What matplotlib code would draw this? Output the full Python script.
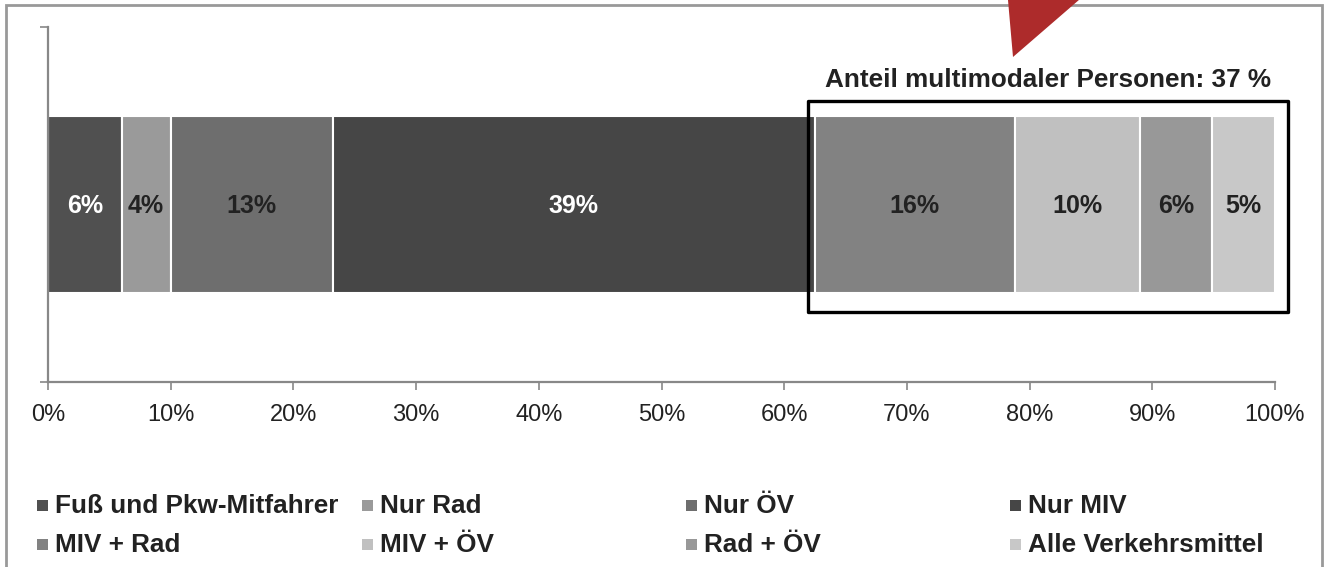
import matplotlib
matplotlib.use("Agg")
import matplotlib.pyplot as plt
from matplotlib.patches import Rectangle, Polygon
import numpy as np

plt.rcParams['font.family'] = ['Liberation Sans', 'DejaVu Sans']

# ---- data ----
categories = ["Fuß und Pkw-Mitfahrer", "Nur Rad", "Nur ÖV", "Nur MIV",
              "MIV + Rad", "MIV + ÖV", "Rad + ÖV", "Alle Verkehrsmittel"]
values = [6.0, 4.0, 13.2, 39.3, 16.3, 10.2, 5.9, 5.1]
colors = ["#505050", "#9a9a9a", "#6e6e6e", "#464646",
          "#828282", "#c0c0c0", "#989898", "#c8c8c8"]
label_colors = ["white", "#222222", "#222222", "white",
                "#222222", "#222222", "#222222", "#222222"]
multimodal = ["MIV + Rad", "MIV + ÖV", "Rad + ÖV", "Alle Verkehrsmittel"]
annotation = "Anteil multimodaler Personen: 37 %"
xticks = [0, 10, 20, 30, 40, 50, 60, 70, 80, 90, 100]
xticklabels = [f"{t}%" for t in xticks]

W, H = 1332, 567
fig = plt.figure(figsize=(W / 100, H / 100), dpi=100)
ax = fig.add_axes([48 / W, 1 - 382 / H, (1275 - 48) / W, (382 - 27) / H])

left = 0.0
starts = []
for cat, v, c, lc in zip(categories, values, colors, label_colors):
    ax.barh(0, v, left=left, height=0.5, color=c, edgecolor="white", linewidth=1.5)
    ax.text(left + v / 2, -0.005, f"{round(v)}%", ha="center", va="center",
            fontsize=18, fontweight="bold", color=lc)
    starts.append(left)
    left += v

ax.set_xlim(0, 100)
ax.set_ylim(-0.5, 0.5)
ax.set_xticks(xticks)
ax.set_xticklabels(xticklabels, fontsize=17, color="#222222")
ax.set_yticks([-0.5, 0.5])
ax.set_yticklabels([])
for s in ["top", "right"]:
    ax.spines[s].set_visible(False)
for s in ["left", "bottom"]:
    ax.spines[s].set_color("#888888")
    ax.spines[s].set_linewidth(1.6)
ax.tick_params(axis="both", direction="out", length=6, width=1.2, color="#888888")
ax.tick_params(axis="x", pad=10)

# box around multimodal group
i0 = categories.index(multimodal[0])
x0 = starts[i0] - 0.6
x1 = 100 + 1.05
box = Rectangle((x0, -0.303), x1 - x0, 0.5945, fill=False, edgecolor="black",
                linewidth=2.4, joinstyle="round", clip_on=False, zorder=5)
ax.add_patch(box)
ax.text((x0 + x1) / 2, 0.35, annotation, ha="center", va="center",
        fontsize=18.8, fontweight="bold", color="#222222", clip_on=False)

# legend (manual, 4 columns x 2 rows)
col_x = [37, 362, 686, 1010]
row_y = [505, 544]
for i, (cat, c) in enumerate(zip(categories, colors)):
    r, k = divmod(i, 4)
    mx, my = col_x[k], row_y[r]
    fig.patches.append(Rectangle((mx / W, 1 - (my + 5.5) / H), 11 / W, 11 / H,
                                 transform=fig.transFigure, facecolor=c,
                                 edgecolor="none"))
    fig.text((mx + 18) / W, 1 - (my + 1) / H, cat, ha="left", va="center",
             fontsize=18.8, fontweight="bold", color="#222222")

# outer frame
fig.patches.append(Rectangle((6 / W, -0.2), (1322 - 6) / W, 1.2 - 5 / H,
                             transform=fig.transFigure, fill=False,
                             edgecolor="#999999", linewidth=2))

# red arrow tip
fig.patches.append(Polygon([(1007 / W, 1.02), (1092 / W, 1.02), (1013 / W, 1 - 57 / H)],
                           closed=True, transform=fig.transFigure,
                           facecolor="#ad2b2b", edgecolor="none"))

fig.savefig("out.png", dpi=100)
